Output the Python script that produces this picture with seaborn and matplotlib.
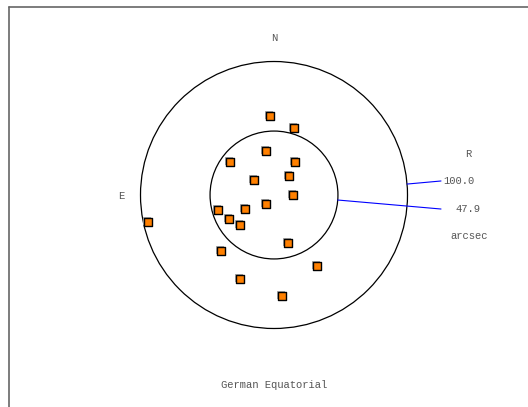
import numpy as np
import pandas as pd
import seaborn as sns
import matplotlib.pyplot as plt
from matplotlib.patches import Circle
from matplotlib.lines import Line2D

# star offsets from field centre, arcsec (x to the right, y up)
x_off = [-2.8, 15.2, -5.8, -33.2, 16.0, 11.5, -15.2, 14.0, -6.0, -22.0,
         -41.7, -33.7, -25.2, 10.7, -39.7, 32.2, -25.7, 6.0, -94.2]
y_off = [59.4, 50.2, 32.7, 24.5, 24.7, 14.2, 11.5, 0.0, -6.7, -10.3,
         -11.5, -18.2, -22.5, -35.7, -42.2, -53.2, -63.1, -75.6, -20.4]

radii = [100.0, 47.9]
radius_labels = ["100.0", "47.9"]
mount = "German Equatorial"

stars = pd.DataFrame({"x": x_off, "y": y_off})

sns.set_style("white")
plt.rcParams['font.family'] = ['Liberation Mono', 'DejaVu Sans Mono']

fig = plt.figure(figsize=(5.28, 4.07), dpi=100)
ax = fig.add_axes([0, 0, 1, 1])
s = 1.335  # px per arcsec
ax.set_xlim(-274 / s, (528 - 274) / s)
ax.set_ylim(-212 / s, 195 / s)
ax.axis("off")

# frame (partly cut off in the original)
fig.add_artist(Line2D([9 / 528, 9 / 528], [0, 1 - 6.5 / 407], color="#666666", lw=1.2, transform=fig.transFigure))
fig.add_artist(Line2D([9 / 528, 1], [1 - 6.5 / 407, 1 - 6.5 / 407], color="#666666", lw=1.2, transform=fig.transFigure))

for r in radii:
    ax.add_patch(Circle((0, 0), r, fill=False, ec="black", lw=0.9))

# shadow then squares
ax.scatter(np.array(x_off) - 0.8, np.array(y_off) + 0.8, marker="s", s=40, color="#aaaaaa", lw=0, zorder=2)
sns.scatterplot(data=stars, x="x", y="y", marker="s", s=34, color="#ff8000",
                edgecolor="black", linewidth=1.0, ax=ax, zorder=3)
ax.set_xlabel("")
ax.set_ylabel("")

# radius pointers
ang = [np.deg2rad(4.7), np.deg2rad(-4.5)]
ends = [(125.1, 10.5), (125.1, -10.5)]
for r, a, e in zip(radii, ang, ends):
    ax.plot([r * np.cos(a), e[0]], [r * np.sin(a), e[1]], color="blue", lw=0.8)

tc = "#555555"
fs = 7.6
ax.text(0, 117.6, "N", ha="center", va="center", color=tc, fontsize=fs)
ax.text(-114.6, -0.7, "E", ha="center", va="center", color=tc, fontsize=fs)
ax.text(145.3, 30.7, "R", ha="center", va="center", color=tc, fontsize=fs)
ax.text(126.6, 10.5, radius_labels[0], ha="left", va="center", color=tc, fontsize=fs)
ax.text(136.3, -10.5, radius_labels[1], ha="left", va="center", color=tc, fontsize=fs)
ax.text(146.0, -30.7, "arcsec", ha="center", va="center", color=tc, fontsize=fs)
ax.text(0, -142.3, mount, ha="center", va="center", color=tc, fontsize=fs)

fig.savefig("out.png", dpi=100)
